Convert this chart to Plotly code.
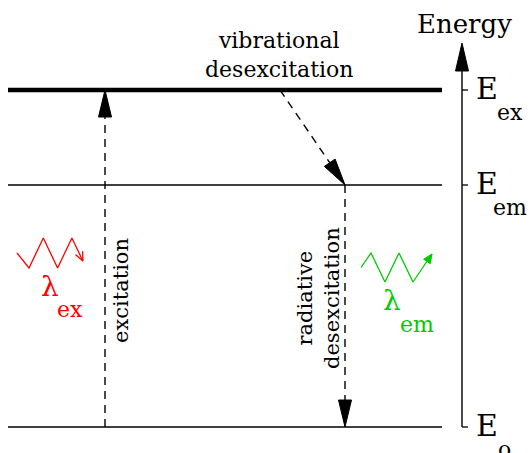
import math
import plotly.graph_objects as go

# ---------------- data ----------------
level_names = ["ex", "em", "o"]          # subscripts of the energy levels
level_energy = [337, 242, 0]              # relative energies (arbitrary units)
level_widths = [4.5, 1.3, 1.3]

# transitions: label, x_from, level_from, x_to, level_to
transitions = [
    ("excitation", 105, "o", 105, "ex"),
    ("vibrational desexcitation", 280, "ex", 345, "em"),
    ("radiative desexcitation", 345, "em", 345, "o"),
]
energy_axis_top = 384
axis_title = "Energy"

# ---------------- geometry helpers ----------------
W, H = 532, 453
E_BASE = 427            # pixel row of zero energy
LX0, LX1 = 8, 442       # level line extent
AX_X = 462              # energy axis position
FONT = "DejaVu Serif"

E = dict(zip(level_names, level_energy))


def e_of(py):
    return E_BASE - py


fig = go.Figure()


def line(xs, es, width=1.3, color="black", dash=None):
    fig.add_trace(go.Scatter(x=xs, y=es, mode="lines", hoverinfo="skip",
                             line=dict(color=color, width=width, dash=dash)))


def head(x0, e0, x1, e1, length, half, color="black", filled=True):
    dx, dy = x1 - x0, e1 - e0
    n = math.hypot(dx, dy)
    ux, uy = dx / n, dy / n
    bx, by = x1 - ux * length, e1 - uy * length
    px, py = -uy, ux
    if filled:
        fig.add_trace(go.Scatter(
            x=[x1, bx + px * half, bx - px * half, x1],
            y=[e1, by + py * half, by - py * half, e1],
            mode="lines", fill="toself", fillcolor=color, hoverinfo="skip",
            line=dict(color=color, width=1)))
    else:
        line([bx + px * half, x1, bx - px * half], [by + py * half, e1, by - py * half],
             width=1.3, color=color)
    return bx, by


# levels
for name, en, w in zip(level_names, level_energy, level_widths):
    line([LX0, LX1], [en, en], width=w)

# transitions (dashed with filled heads)
for label, xa, la, xb, lb in transitions:
    ea, eb = E[la], E[lb]
    bx, by = head(xa, ea, xb, eb, 27, 6.5)
    line([xa, bx], [ea, by], width=1.4, dash="8px,6px")

# energy axis
head(AX_X, 0, AX_X, energy_axis_top, 28, 6.5)
line([AX_X, AX_X], [0, energy_axis_top - 20], width=1.4)
for en in level_energy:
    line([AX_X, AX_X + 6], [en, en], width=1.3)


# photons
def photon(x_start, py_mid, lead, step, amp, n, first_dir, end_dx, end_dy, color, filled):
    xs = [x_start]
    ys = [py_mid]
    for i in range(n):
        xs.append(x_start + lead + i * step)
        ys.append(py_mid + first_dir * ((-1) ** i) * amp / 2)
    xs.append(xs[-1] + end_dx)
    ys.append(ys[-1] + end_dy)
    es = [e_of(v) for v in ys]
    line(xs, es, width=1.3, color=color)
    head(xs[-2], es[-2], xs[-1], es[-1], 9, 4, color=color, filled=filled)


RED = "#ff0000"
GREEN = "#00cc00"
photon(17, 253, 12, 14.3, 30, 4, 1, 11, 23, RED, False)
photon(361, 267.5, 10, 14, 29, 4, -1, 19, -28, GREEN, True)


# texts
def text(s, x, py, size, color="black", angle=0):
    fig.add_annotation(x=x, y=e_of(py), text=s, showarrow=False, textangle=angle,
                       xanchor="center", yanchor="middle",
                       font=dict(family=FONT, size=size, color=color))


text(axis_title, 464, 24, 26)
text("vibrational<br>desexcitation", 279, 55, 22)
text("excitation", 121, 291, 21, angle=-90)
text("radiative<br>desexcitation", 318, 298, 21, angle=-90)

for name, en in zip(level_names, level_energy):
    py = E_BASE - en
    text("E", 487, py - 2, 30)
    text(name, 489 + 9 + 6 * len(name), py + 22, 22)

text("λ", 50, 286, 28, RED)
text("ex", 70, 309, 22, RED)
text("λ", 392, 300, 28, GREEN)
text("em", 417, 324, 22, GREEN)

fig.update_layout(
    width=W, height=H, margin=dict(l=0, r=0, t=0, b=0),
    paper_bgcolor="white", plot_bgcolor="white", showlegend=False,
    xaxis=dict(range=[0, W], visible=False, fixedrange=True),
    yaxis=dict(range=[E_BASE - H, E_BASE], visible=False, fixedrange=True),
)

fig.write_html("out.html", config={"displayModeBar": False},
               post_script="document.body.style.margin='0';document.body.style.overflow='hidden';")
